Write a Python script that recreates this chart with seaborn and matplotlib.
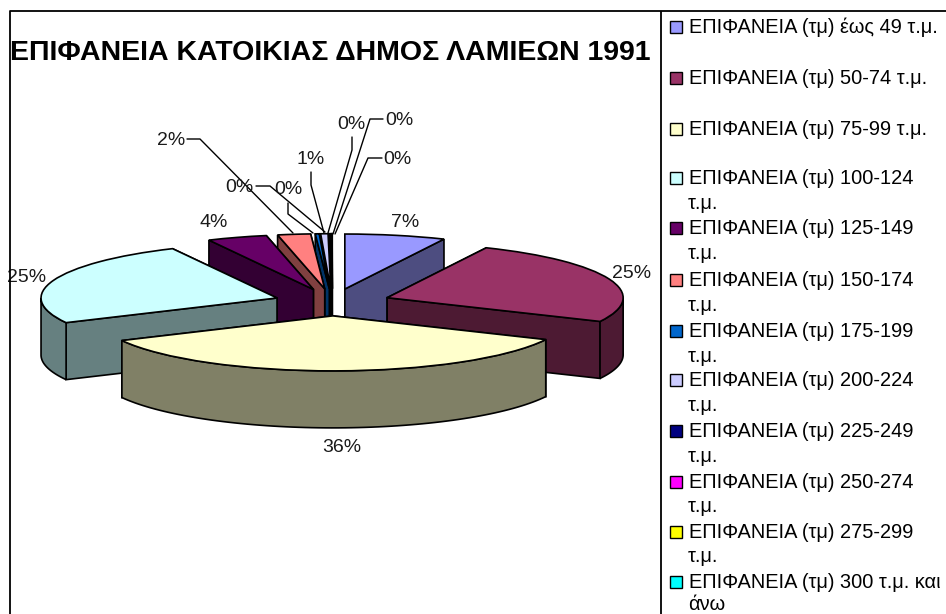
import numpy as np
import matplotlib
matplotlib.use("Agg")
import matplotlib.pyplot as plt
import seaborn as sns

W, H = 946, 614

categories = [
    "ΕΠΙΦΑΝΕΙΑ (τμ) έως 49 τ.μ.",
    "ΕΠΙΦΑΝΕΙΑ (τμ) 50-74 τ.μ.",
    "ΕΠΙΦΑΝΕΙΑ (τμ) 75-99 τ.μ.",
    "ΕΠΙΦΑΝΕΙΑ (τμ) 100-124\nτ.μ.",
    "ΕΠΙΦΑΝΕΙΑ (τμ) 125-149\nτ.μ.",
    "ΕΠΙΦΑΝΕΙΑ (τμ) 150-174\nτ.μ.",
    "ΕΠΙΦΑΝΕΙΑ (τμ) 175-199\nτ.μ.",
    "ΕΠΙΦΑΝΕΙΑ (τμ) 200-224\nτ.μ.",
    "ΕΠΙΦΑΝΕΙΑ (τμ) 225-249\nτ.μ.",
    "ΕΠΙΦΑΝΕΙΑ (τμ) 250-274\nτ.μ.",
    "ΕΠΙΦΑΝΕΙΑ (τμ) 275-299\nτ.μ.",
    "ΕΠΙΦΑΝΕΙΑ (τμ) 300 τ.μ. και\nάνω",
]
values = [6.9, 25.2, 35.5, 25.1, 4.1, 2.25, 0.27, 0.5, 0.06, 0.1, 0.01, 0.01]
pct_labels = ["7%", "25%", "36%", "25%", "4%", "2%", "0%", "0%", "1%", "0%", "0%", "0%"]
colors = ["#9999FF", "#993366", "#FFFFCC", "#CCFFFF", "#660066", "#FF8080",
          "#0066CC", "#CCCCFF", "#000080", "#FF00FF", "#FFFF00", "#00FFFF"]

# layout, in pixels of the picture
cx, cy = 332.3, 302.3
rx, ry = 236, 55
depth = 57 / ry
draw_order = [0, 11, 10, 9, 8, 7, 6, 5, 4, 1, 3, 2]
label_xy = [(405, 222), (632, 273), (342, 447), (27, 277), (214, 222), (171, 140),
            (288, 189), (239, 187), (311, 159), (351, 124), (399, 120), (397, 159)]
leaders = {
    5: [(187, 139), (200, 139), (293, 233)],
    6: [(288, 203), (288, 214), (313, 233)],
    7: [(256, 186), (270, 186), (325, 232)],
    8: [(311, 172), (311, 185), (324, 233)],
    9: [(352, 137), (352, 150), (328, 233)],
    10: [(383, 119), (370, 119), (333, 234)],
    11: [(382, 158), (368, 158), (335, 234)],
}
legend_y = [27, 78, 129, 178, 228, 280, 331, 380, 431, 482, 532, 582]

sns.set_theme(style="white")
plt.rcParams["font.family"] = ["Liberation Sans", "DejaVu Sans"]
palette = sns.color_palette(colors)

fig = plt.figure(figsize=(W / 100, H / 100), dpi=100)
ax = fig.add_axes([0, 0, 1, 1])


def px(x, y):
    return (x - cx) / rx, (cy - y) / ry


wedges, _ = ax.pie(values, colors=palette, startangle=90, counterclock=False,
                   explode=[0.247] * len(values),
                   wedgeprops={"edgecolor": "black", "linewidth": 1.2})
ax.set_aspect("auto")
ax.set_xlim(-cx / rx, (W - cx) / rx)
ax.set_ylim((cy - H) / ry, cy / ry)
ax.set_axis_on()
ax.set_frame_on(False)


# side walls of each exploded slice, darker shade of the slice colour
def walls(w, color, z):
    x0, y0 = w.center
    t1, t2 = w.theta1, w.theta2
    dark = tuple(c * 0.5 for c in color)
    style = dict(facecolor=dark, edgecolor="black", linewidth=1.2, zorder=z)
    ends = sorted([t1, t2], key=lambda t: -np.sin(np.radians(t)))
    for t in ends:
        a = np.radians(t)
        ex, ey = x0 + np.cos(a), y0 + np.sin(a)
        ax.fill([x0, ex, ex, x0], [y0, ey, ey - depth, y0 - depth], **style)
    # only the front half of the rim can be seen
    for lo, hi in [(-180, 0), (180, 360)]:
        a1, a2 = max(t1, lo), min(t2, hi)
        if a2 > a1:
            a = np.radians(np.linspace(a1, a2, 80))
            xs = x0 + np.cos(a)
            ys = y0 + np.sin(a)
            ax.fill(np.r_[xs, xs[::-1]], np.r_[ys, ys[::-1] - depth], **style)


for rank, i in enumerate(draw_order):
    walls(wedges[i], palette[i], 2 + rank * 2)
    wedges[i].set_zorder(3 + rank * 2)

# percent labels and their leader lines
for lab, (x, y) in zip(pct_labels, label_xy):
    tx, ty = px(x, y)
    ax.text(tx, ty, lab, ha="center", va="center", fontsize=14, color="#1a1a1a", zorder=40)
for pts in leaders.values():
    xs, ys = zip(*[px(*p) for p in pts])
    ax.plot(xs, ys, color="black", lw=1, zorder=39)

# title
tx, ty = px(330, 53)
ax.text(tx, ty, "ΕΠΙΦΑΝΕΙΑ ΚΑΤΟΙΚΙΑΣ ΔΗΜΟΣ ΛΑΜΙΕΩΝ 1991", ha="center", va="center",
        fontsize=20.5, fontweight="bold", color="black", zorder=40)

# frame
for pts in [[(10, H), (10, 11), (W, 11)], [(661, 11), (661, H)]]:
    xs, ys = zip(*[px(*p) for p in pts])
    ax.plot(xs, ys, color="black", lw=1.3, zorder=41, solid_capstyle="butt")

# legend
for cat, col, y in zip(categories, palette, legend_y):
    (x0, y0), (x1, y1) = px(670, y - 6), px(682, y + 6)
    ax.fill([x0, x1, x1, x0], [y0, y0, y1, y1], facecolor=col, edgecolor="black", lw=1, zorder=40)
    lines = cat.split("\n")
    tx, ty = px(689, y)
    ax.text(tx, ty, lines[0], ha="left", va="center", fontsize=14.4, color="black", zorder=40)
    if len(lines) > 1:
        # last wrapped line sits right at the bottom edge, keep it inside
        tx, ty = px(688, min(y + 25, 604))
        ax.text(tx, ty, lines[1], ha="left", va="center", fontsize=14.4, color="black", zorder=40)

ax.set_xticks([])
ax.set_yticks([])
fig.savefig("out.png", dpi=100)
